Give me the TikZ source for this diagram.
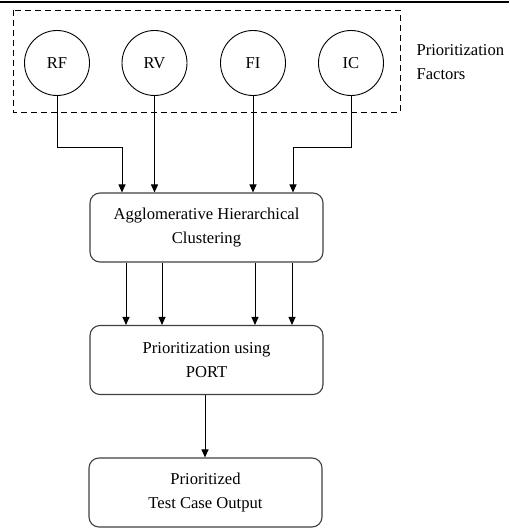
\documentclass[tikz,border=0pt]{standalone}
\usepackage{fontspec}
\setmainfont{Liberation Serif}
\usetikzlibrary{arrows.meta,calc}
\begin{document}
\begin{tikzpicture}[x=1pt,y=-1pt,
  every node/.style={font=\fontsize{16.6}{24}\selectfont},
  factor/.style={draw=black,line width=0.9pt,circle,minimum size=65pt,inner sep=0pt},
  procbox/.style={draw=black!75,line width=1.1pt,rectangle,rounded corners=10pt,minimum width=233pt,minimum height=69pt,align=center,inner sep=0pt},
  arr/.style={draw=black,line width=1pt,-{Triangle[length=8pt,width=7pt]}}]
\useasboundingbox (0,0) rectangle (509,529);
\draw[line width=1.6pt] (0,2) -- (509,2);
\draw[dashed,dash pattern=on 6pt off 4pt,line width=0.9pt] (13,10) rectangle (400,112);
\node[factor] (rf) at (57,63) {RF};
\node[factor] (rv) at (154.5,63) {RV};
\node[factor] (fi) at (253,63) {FI};
\node[factor] (ic) at (351,63) {IC};
\node[anchor=west,align=left] (pf) at (413,62) {Prioritization\\Factors};
\node[procbox] (ahc) at (206.5,227.5) {Agglomerative Hierarchical\\Clustering};
\node[procbox] (port) at (206.5,360) {Prioritization using\\PORT};
\node[procbox] (out) at (205.5,492.5) {Prioritized\\Test Case Output};
\coordinate (rfbend) at (122,148);
\coordinate (icbend) at (293,148);
\draw[arr] (rf.south) |- (rfbend) -- (rfbend |- ahc.north);
\draw[arr] (rv.south) -- (rv.south |- ahc.north);
\draw[arr] (fi.south) -- (fi.south |- ahc.north);
\draw[arr] (ic.south) |- (icbend) -- (icbend |- ahc.north);
\foreach \xx in {126,162,255,292}{
  \draw[arr] (\xx,0 |- ahc.south) -- (\xx,0 |- port.north);
}
\draw[arr] (205,0 |- port.south) -- (205,0 |- out.north);
\end{tikzpicture}
\end{document}
